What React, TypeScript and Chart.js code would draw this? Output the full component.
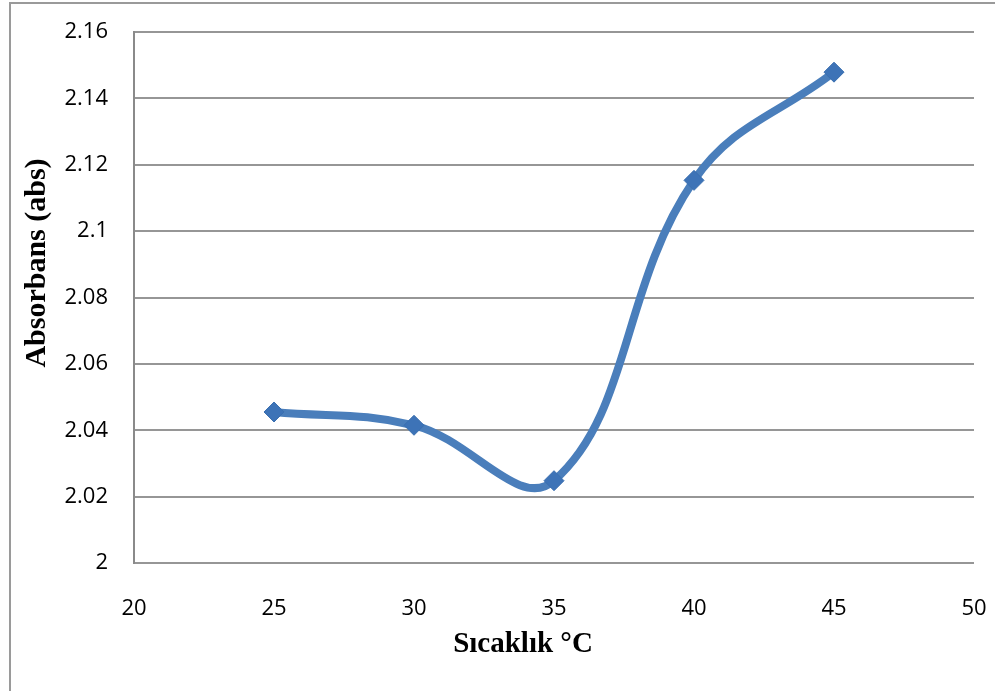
import React, { useEffect, useRef } from "react";
import { Chart, registerables } from "chart.js";

Chart.register(...registerables);

const temperatures = [25, 30, 35, 40, 45];
const absorbance = [2.0455, 2.0415, 2.0248, 2.1153, 2.1479];
const xTitle = "Sıcaklık °C";
const yTitle = "Absorbans (abs)";

const W = 995;
const H = 691;

const decorPlugin = {
  id: "decor",
  beforeDraw(chart: any) {
    const ctx = chart.ctx;
    ctx.save();
    ctx.fillStyle = "#ffffff";
    ctx.fillRect(0, 0, W, H);
    ctx.strokeStyle = "#9a9a9a";
    ctx.lineWidth = 2;
    ctx.beginPath();
    ctx.moveTo(10, H);
    ctx.lineTo(10, 3);
    ctx.lineTo(W, 3);
    ctx.stroke();
    ctx.restore();
  },
  afterDraw(chart: any) {
    const ctx = chart.ctx;
    ctx.save();
    ctx.fillStyle = "#000000";
    ctx.font = "bold 29px 'Liberation Serif', 'Times New Roman', serif";
    ctx.textAlign = "center";
    ctx.textBaseline = "alphabetic";
    ctx.fillText(xTitle, 523, 652);
    ctx.translate(45, 263);
    ctx.rotate(-Math.PI / 2);
    ctx.font = "bold 30px 'Liberation Serif', 'Times New Roman', serif";
    ctx.fillText(yTitle, 0, 0);
    ctx.restore();
  },
};

export default function App() {
  const ref = useRef<HTMLCanvasElement | null>(null);
  useEffect(() => {
    if (!ref.current) return;
    const tickFont = { family: "'Open Sans', 'Liberation Sans', sans-serif", size: 22 };
    const chart = new Chart(ref.current, {
      type: "line",
      data: {
        datasets: [
          {
            data: temperatures.map((t, i) => ({ x: t, y: absorbance[i] })),
            borderColor: "#4a7ebb",
            borderWidth: 8,
            tension: 0.4,
            pointStyle: "rectRot",
            pointRadius: 10,
            pointBackgroundColor: "#3d73b7",
            pointBorderColor: "#3a6fb0",
            pointBorderWidth: 1,
            fill: false,
          },
        ],
      },
      options: {
        responsive: false,
        animation: false,
        devicePixelRatio: 1,
        layout: { padding: { top: 32, right: 21, left: 0, bottom: 0 } },
        plugins: { legend: { display: false }, tooltip: { enabled: false } },
        scales: {
          x: {
            type: "linear",
            min: 20,
            max: 50,
            ticks: { stepSize: 5, color: "#000", font: tickFont, padding: 33, maxRotation: 0 },
            grid: { display: false, drawTicks: false },
            border: { display: false },
            afterFit: (s: any) => {
              s.height = 128;
              s.paddingLeft = 0;
              s.paddingRight = 0;
              s.paddingTop = 0;
              s.paddingBottom = 0;
            },
          },
          y: {
            type: "linear",
            min: 2,
            max: 2.16,
            ticks: {
              stepSize: 0.02,
              color: "#000",
              font: tickFont,
              padding: 26,
              callback: (v: any) => String(+Number(v).toFixed(2)),
            },
            grid: { color: "#969696", lineWidth: 2, drawTicks: false },
            border: { display: true, color: "#8a8a8a", width: 2 },
            afterFit: (s: any) => {
              s.width = 134;
              s.paddingLeft = 0;
              s.paddingRight = 0;
              s.paddingTop = 0;
              s.paddingBottom = 0;
            },
          },
        },
      },
      plugins: [decorPlugin],
    });
    return () => chart.destroy();
  }, []);
  return (
    <div style={{ position: "absolute", left: 0, top: 0, width: W, height: H, background: "#fff" }}>
      <canvas ref={ref} width={W} height={H} style={{ width: W, height: H, display: "block" }} />
    </div>
  );
}
